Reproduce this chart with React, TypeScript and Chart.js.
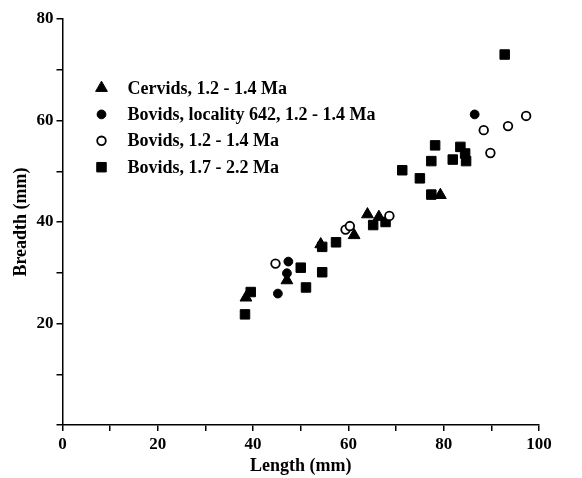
import React, { useEffect, useRef } from "react";
import { Chart, registerables } from "chart.js";

Chart.register(...registerables);

// ---- Data ----
const seriesLabels = [
  "Cervids, 1.2 - 1.4 Ma",
  "Bovids, locality 642, 1.2 - 1.4 Ma",
  "Bovids, 1.2 - 1.4 Ma",
  "Bovids, 1.7 - 2.2 Ma",
];

const cervidsLength = [38.5, 47.1, 54.2, 61.2, 64.0, 66.4, 79.3];
const cervidsBreadth = [25.1, 28.5, 35.6, 37.4, 41.5, 41.0, 45.3];

const loc642Length = [45.2, 47.1, 47.4, 86.5];
const loc642Breadth = [25.9, 29.9, 32.2, 61.2];

const bovidsEarlyLength = [44.7, 59.4, 60.3, 68.6, 88.4, 89.8, 93.5, 97.3];
const bovidsEarlyBreadth = [31.8, 38.5, 39.2, 41.2, 58.1, 53.6, 58.9, 60.9];

const bovidsLateLength = [
  38.3, 39.5, 50.0, 51.1, 54.5, 54.5, 57.4, 65.2, 67.8, 71.3, 75.0, 77.4, 77.4,
  78.2, 81.9, 83.5, 84.5, 84.7, 92.8,
];
const bovidsLateBreadth = [
  21.8, 26.2, 31.0, 27.1, 30.1, 35.1, 36.0, 39.4, 40.0, 50.2, 48.6, 52.0, 45.4,
  55.1, 52.3, 54.8, 53.5, 52.0, 73.0,
];

const xTickLabels = [0, 20, 40, 60, 80, 100];
const yTickLabels = [20, 40, 60, 80];

const FONT_FAMILY = '"Liberation Serif", "Times New Roman", serif';

type MarkerStyle = {
  pointStyle: string;
  radius: number;
  fill: string;
  stroke: string;
  borderWidth: number;
};

const markerStyles: MarkerStyle[] = [
  { pointStyle: "triangle", radius: 6.8, fill: "#000", stroke: "#000", borderWidth: 1 },
  { pointStyle: "circle", radius: 4.4, fill: "#000", stroke: "#000", borderWidth: 1 },
  { pointStyle: "circle", radius: 4.3, fill: "#fff", stroke: "#000", borderWidth: 1.8 },
  { pointStyle: "rect", radius: 6.7, fill: "#000", stroke: "#000", borderWidth: 1 },
];

function toPoints(xs: number[], ys: number[]) {
  return xs.map((x, i) => ({ x, y: ys[i] }));
}

function drawMarker(ctx: CanvasRenderingContext2D, m: MarkerStyle, x: number, y: number) {
  const r = m.radius;
  ctx.beginPath();
  if (m.pointStyle === "triangle") {
    let rad = 0;
    ctx.moveTo(x + Math.sin(rad) * r, y - Math.cos(rad) * r);
    rad += (2 * Math.PI) / 3;
    ctx.lineTo(x + Math.sin(rad) * r, y - Math.cos(rad) * r);
    rad += (2 * Math.PI) / 3;
    ctx.lineTo(x + Math.sin(rad) * r, y - Math.cos(rad) * r);
    ctx.closePath();
  } else if (m.pointStyle === "rect") {
    const s = Math.SQRT1_2 * r;
    ctx.rect(x - s, y - s, 2 * s, 2 * s);
  } else {
    ctx.arc(x, y, r, 0, Math.PI * 2);
    ctx.closePath();
  }
  ctx.fillStyle = m.fill;
  ctx.fill();
  ctx.lineWidth = m.borderWidth;
  ctx.strokeStyle = m.stroke;
  ctx.stroke();
}

const insetLegend = {
  id: "insetLegend",
  afterDraw(chart: any) {
    const ctx: CanvasRenderingContext2D = chart.ctx;
    const area = chart.chartArea;
    ctx.save();
    ctx.font = `bold 18px ${FONT_FAMILY}`;
    ctx.textBaseline = "middle";
    ctx.textAlign = "left";
    seriesLabels.forEach((label, i) => {
      const y = area.top + 69 + i * 26.4;
      drawMarker(ctx, markerStyles[i], area.left + 39, y);
      ctx.fillStyle = "#000";
      ctx.fillText(label, area.left + 65, y + 1);
    });
    ctx.restore();
  },
};

export default function App() {
  const canvasRef = useRef<HTMLCanvasElement | null>(null);

  useEffect(() => {
    if (!canvasRef.current) return;
    const seriesPoints = [
      toPoints(cervidsLength, cervidsBreadth),
      toPoints(loc642Length, loc642Breadth),
      toPoints(bovidsEarlyLength, bovidsEarlyBreadth),
      toPoints(bovidsLateLength, bovidsLateBreadth),
    ];
    const datasets = seriesPoints.map((data, i) => ({
      label: seriesLabels[i],
      data,
      pointStyle: markerStyles[i].pointStyle,
      pointRadius: markerStyles[i].radius,
      pointHoverRadius: markerStyles[i].radius,
      pointBackgroundColor: markerStyles[i].fill,
      pointBorderColor: markerStyles[i].stroke,
      pointBorderWidth: markerStyles[i].borderWidth,
      showLine: false,
    }));

    const tickFont = { family: FONT_FAMILY, size: 17, weight: "bold" as const };
    const titleFont = { family: FONT_FAMILY, size: 18, weight: "bold" as const };

    const chart = new Chart(canvasRef.current, {
      type: "scatter",
      data: { datasets },
      plugins: [insetLegend],
      options: {
        animation: false,
        responsive: true,
        maintainAspectRatio: false,
        layout: { padding: { top: 19, right: 43, bottom: 0, left: 8 } },
        plugins: {
          legend: { display: false },
          tooltip: { enabled: false },
        },
        scales: {
          x: {
            type: "linear",
            min: 0,
            max: 100,
            afterFit: (scale: any) => {
              scale.height = 53;
            },
            border: { display: true, color: "#000", width: 1.5 },
            grid: {
              display: true,
              drawOnChartArea: false,
              drawTicks: true,
              tickLength: 6,
              color: "#000",
              lineWidth: 1.5,
            },
            ticks: {
              stepSize: 10,
              autoSkip: false,
              maxRotation: 0,
              padding: 3,
              color: "#000",
              font: tickFont,
              callback: (v: any) => (xTickLabels.includes(Number(v)) ? String(v) : ""),
            },
            title: {
              display: true,
              text: "Length (mm)",
              color: "#000",
              font: titleFont,
              padding: { top: 0, bottom: 1 },
            },
          },
          y: {
            type: "linear",
            min: 0,
            max: 80,
            afterFit: (scale: any) => {
              scale.width = 54.5;
            },
            border: { display: true, color: "#000", width: 1.5 },
            grid: {
              display: true,
              drawOnChartArea: false,
              drawTicks: true,
              tickLength: 6,
              color: "#000",
              lineWidth: 1.5,
            },
            ticks: {
              stepSize: 10,
              autoSkip: false,
              padding: 3,
              color: "#000",
              font: tickFont,
              callback: (v: any) => (yTickLabels.includes(Number(v)) ? String(v) : ""),
            },
            title: {
              display: true,
              text: "Breadth (mm)",
              color: "#000",
              font: titleFont,
              padding: { top: 3, bottom: 0 },
            },
          },
        },
      },
    });
    return () => chart.destroy();
  }, []);

  return (
    <div
      style={{
        position: "absolute",
        left: 0,
        top: 0,
        width: 582,
        height: 478,
        background: "#fff",
      }}
    >
      <canvas ref={canvasRef} />
    </div>
  );
}
